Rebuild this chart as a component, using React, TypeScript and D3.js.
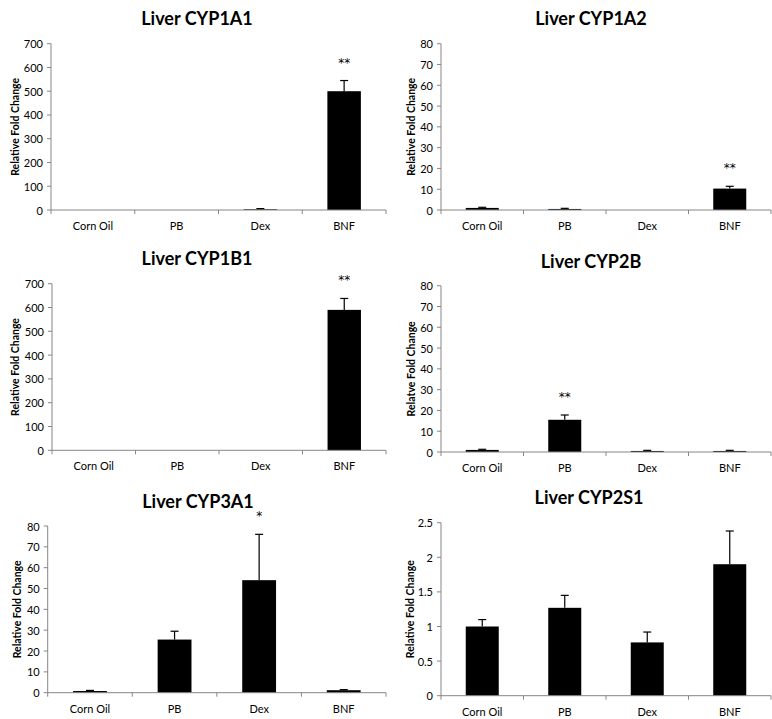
import * as d3 from "d3";
import React from "react";

const WIDTH = 772;
const HEIGHT = 719;
const FONT = "Lato, 'Open Sans', sans-serif";

// data
const categories = ["Corn Oil", "PB", "Dex", "BNF"];

const titles = [
    "Liver CYP1A1",
    "Liver CYP1A2",
    "Liver CYP1B1",
    "Liver CYP2B",
    "Liver CYP3A1",
    "Liver CYP2S1",
];
const yLabels = [
    "Relative Fold Change",
    "Relative Fold Change",
    "Relative Fold Change",
    "Relatve Fold Change",
    "Relative Fold Change",
    "Relative Fold Change",
];

const cyp1a1Values = [0, 0, 3, 500];
const cyp1a1Errors = [0, 0, 3, 45];
const cyp1a2Values = [1, 0.5, 0, 10.3];
const cyp1a2Errors = [0.3, 0.3, 0, 1.1];
const cyp1b1Values = [0, 0, 0, 590];
const cyp1b1Errors = [0, 0, 0, 48];
const cyp2bValues = [1, 15.5, 0.5, 0.5];
const cyp2bErrors = [0.3, 2.3, 0.3, 0.3];
const cyp3a1Values = [0.8, 25.5, 54, 1.2];
const cyp3a1Errors = [0.3, 4, 22, 0.3];
const cyp2s1Values = [1.0, 1.27, 0.77, 1.9];
const cyp2s1Errors = [0.1, 0.18, 0.15, 0.48];

const cyp1a1Stars = ["", "", "", "**"];
const cyp1a2Stars = ["", "", "", "**"];
const cyp1b1Stars = ["", "", "", "**"];
const cyp2bStars = ["", "**", "", ""];
const cyp3a1Stars = ["", "", "*", ""];
const cyp2s1Stars = ["", "", "", ""];

const ticks700 = [0, 100, 200, 300, 400, 500, 600, 700];
const ticks80 = [0, 10, 20, 30, 40, 50, 60, 70, 80];
const ticks25 = [0, 0.5, 1, 1.5, 2, 2.5];

const panelValues = [cyp1a1Values, cyp1a2Values, cyp1b1Values, cyp2bValues, cyp3a1Values, cyp2s1Values];
const panelErrors = [cyp1a1Errors, cyp1a2Errors, cyp1b1Errors, cyp2bErrors, cyp3a1Errors, cyp2s1Errors];
const panelStars = [cyp1a1Stars, cyp1a2Stars, cyp1b1Stars, cyp2bStars, cyp3a1Stars, cyp2s1Stars];
const panelTicks = [ticks700, ticks80, ticks700, ticks80, ticks80, ticks25];

// layout of each panel (pixels)
const LAYOUT = [
    { left: 51, right: 386, top: 43.7, bottom: 210, titleX: 197, titleY: 25, yLabelX: 15 },
    { left: 441, right: 771, top: 43.7, bottom: 210, titleX: 591, titleY: 25, yLabelX: 411 },
    { left: 52, right: 386, top: 283.7, bottom: 450.3, titleX: 197, titleY: 265, yLabelX: 15 },
    { left: 441, right: 771, top: 285.7, bottom: 452, titleX: 591, titleY: 267.7, yLabelX: 411 },
    { left: 47.7, right: 386, top: 526, bottom: 692.7, titleX: 198, titleY: 507.7, yLabelX: 17 },
    { left: 441, right: 771, top: 522.7, bottom: 695.7, titleX: 589, titleY: 503.7, yLabelX: 410 },
];

const AXIS = "#868686";

const Panel: React.FC<{ index: number }> = ({ index }) => {
    const L = LAYOUT[index];
    const values = panelValues[index];
    const errors = panelErrors[index];
    const stars = panelStars[index];
    const ticks = panelTicks[index];

    const xScale = d3
        .scaleBand<string>()
        .domain(categories)
        .range([L.left, L.right])
        .paddingInner(0.6)
        .paddingOuter(0.3);
    const step = xScale.step();
    const yScale = d3
        .scaleLinear()
        .domain([0, ticks[ticks.length - 1]])
        .range([L.bottom, L.top]);

    return (
        <g>
            <text
                x={L.titleX}
                y={L.titleY}
                textAnchor="middle"
                fontFamily={FONT}
                fontWeight="bold"
                fontSize={18}
                fill="#000"
            >
                {titles[index]}
            </text>
            <text
                transform={`translate(${L.yLabelX},${(L.top + L.bottom) / 2}) rotate(-90)`}
                textAnchor="middle"
                dominantBaseline="central"
                fontFamily={FONT}
                fontWeight="bold"
                fontSize={10.5}
                fill="#000"
            >
                {yLabels[index]}
            </text>

            {/* bars */}
            {categories.map((c, i) => {
                const x = xScale(c) || 0;
                const y = yScale(values[i]);
                const errTop = yScale(values[i] + errors[i]);
                const cx = x + xScale.bandwidth() / 2;
                return (
                    <g key={c}>
                        {values[i] > 0 && (
                            <rect
                                x={x}
                                y={y}
                                width={xScale.bandwidth()}
                                height={L.bottom - y}
                                fill="#000"
                            />
                        )}
                        {errors[i] > 0 && (
                            <g stroke="#000" strokeWidth={1.2}>
                                <line x1={cx} x2={cx} y1={y} y2={errTop} />
                                <line x1={cx - 4} x2={cx + 4} y1={errTop} y2={errTop} />
                            </g>
                        )}
                        {stars[i] && (
                            <text
                                x={cx}
                                y={errTop - 14}
                                textAnchor="middle"
                                fontFamily="'DejaVu Sans', sans-serif"
                                fontSize={12}
                                fill="#000"
                            >
                                {stars[i]}
                            </text>
                        )}
                        <text
                            x={cx}
                            y={L.bottom + 20}
                            textAnchor="middle"
                            fontFamily={FONT}
                            fontSize={11}
                            fill="#000"
                        >
                            {c}
                        </text>
                    </g>
                );
            })}

            {/* y axis */}
            <line x1={L.left} x2={L.left} y1={L.top} y2={L.bottom} stroke={AXIS} strokeWidth={1} />
            {ticks.map((t) => (
                <g key={t}>
                    <line
                        x1={L.left - 4}
                        x2={L.left}
                        y1={yScale(t)}
                        y2={yScale(t)}
                        stroke={AXIS}
                    />
                    <text
                        x={L.left - 8}
                        y={yScale(t)}
                        textAnchor="end"
                        dominantBaseline="central"
                        fontFamily={FONT}
                        fontSize={11}
                        fill="#000"
                    >
                        {String(t)}
                    </text>
                </g>
            ))}

            {/* x axis */}
            <line x1={L.left} x2={L.right} y1={L.bottom} y2={L.bottom} stroke={AXIS} strokeWidth={1} />
            {d3.range(categories.length + 1).map((k) => (
                <line
                    key={k}
                    x1={L.left + k * step}
                    x2={L.left + k * step}
                    y1={L.bottom}
                    y2={L.bottom + 4}
                    stroke={AXIS}
                />
            ))}
        </g>
    );
};

export default function App() {
    return (
        <svg
            width={WIDTH}
            height={HEIGHT}
            style={{ position: "absolute", left: 0, top: 0, background: "#fff" }}
        >
            <rect width={WIDTH} height={HEIGHT} fill="#fff" />
            {titles.map((t, i) => (
                <Panel key={t} index={i} />
            ))}
        </svg>
    );
}
